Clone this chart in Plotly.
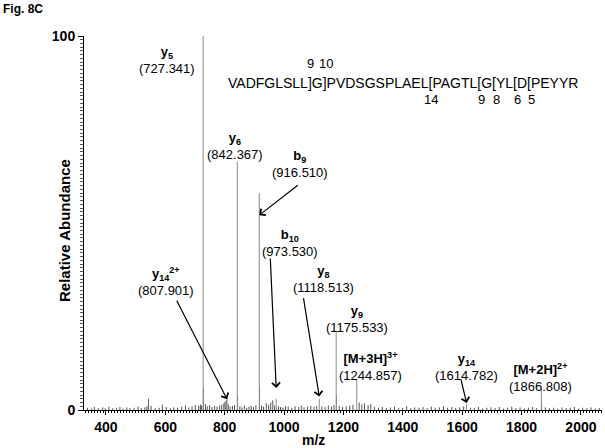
import plotly.graph_objects as go

# annotated fragment ions
ion_names = ['y<sub>5</sub>', 'y<sub>6</sub>', 'b<sub>9</sub>', 'b<sub>10</sub>',
             'y<sub>14</sub><sup>2+</sup>', 'y<sub>8</sub>', 'y<sub>9</sub>',
             '[M+3H]<sup>3+</sup>', 'y<sub>14</sub>', '[M+2H]<sup>2+</sup>']
ion_mz = [727.341, 842.367, 916.510, 973.530, 807.901, 1118.513, 1175.533,
          1244.857, 1614.782, 1866.808]
ion_int = [100, 66.4, 58.0, 3.0, 3.2, 3.0, 20.8, 8.0, 1.6, 5.9]

# isotope peaks next to the big ones
iso_mz = [728.344, 843.370, 917.513, 1176.536, 1867.810]
iso_int = [6.0, 3.8, 6.5, 4.0, 2.0]

# baseline noise peaks
noise_mz = [338, 352, 361, 374, 389, 397, 410, 423, 436, 447, 458, 470, 481, 495, 508, 519, 531, 538, 543,
            552, 566, 579, 590, 603, 617, 628, 641, 655, 668, 679, 690, 701, 712,
            718, 722, 735, 741, 749, 757, 766, 774, 783, 790, 797, 801, 805, 812, 818, 826, 833,
            851, 858, 866, 874, 882, 889, 897, 905, 924, 931, 940, 948, 955, 962, 968, 981, 988, 996,
            1005, 1014, 1026, 1037, 1049, 1058, 1067, 1079, 1090, 1101, 1110,
            1127, 1138, 1149, 1160, 1168, 1186, 1197, 1209, 1221, 1232, 1253, 1262, 1271, 1283, 1292, 1304,
            1318, 1331, 1345, 1358, 1372, 1386, 1399, 1413, 1427, 1440, 1455, 1468, 1482, 1496, 1509,
            1523, 1537, 1551, 1565, 1578, 1592, 1605,
            1628, 1641, 1655, 1669, 1683, 1697, 1711, 1725, 1739, 1753, 1767, 1781, 1795, 1809, 1823,
            1837, 1851, 1880, 1894, 1908, 1922, 1936, 1950, 1964, 1978, 1992, 2006, 2020, 2034, 2048, 2062]
noise_int = [0.6, 0.4, 0.8, 0.5, 0.7, 0.4, 0.9, 0.5, 0.6, 0.8, 0.4, 0.7, 0.5, 0.6, 0.9, 0.5, 0.7, 1.0, 3.0,
             1.1, 0.5, 0.6, 1.4, 0.8, 0.5, 0.7, 0.6, 0.9, 1.2, 0.7, 1.0, 1.3, 1.1,
             1.5, 1.2, 1.6, 1.0, 1.3, 0.8, 1.1, 0.9, 1.2, 1.4, 1.8, 2.2, 2.6, 1.5, 0.9, 1.1, 1.3,
             1.0, 0.7, 1.2, 0.6, 0.9, 1.1, 0.8, 1.3, 1.2, 0.9, 1.8, 1.4, 2.0, 2.6, 1.2, 1.0, 0.8, 0.7,
             1.1, 0.9, 0.6, 1.0, 0.8, 1.2, 0.7, 0.9, 1.1, 0.8, 1.0,
             1.0, 0.8, 1.2, 0.9, 1.3, 1.1, 0.8, 1.0, 1.2, 1.4, 2.0, 1.5, 1.8, 1.3, 1.6, 0.9,
             0.6, 0.8, 0.5, 0.7, 0.9, 0.5, 0.6, 1.0, 0.5, 0.7, 0.6, 0.8, 0.5, 0.9, 0.6,
             0.7, 1.0, 0.6, 0.8, 0.5, 0.7, 0.9,
             0.6, 0.5, 0.8, 0.4, 0.6, 0.7, 0.5, 0.8, 0.4, 0.6, 0.9, 0.5, 0.7, 0.4, 0.6,
             0.8, 0.5, 0.7, 0.5, 0.6, 0.4, 0.7, 0.5, 0.6, 0.8, 0.4, 0.6, 0.5, 0.7, 0.4, 0.5]

peptide = 'VADFGLSLLGPVDSGSPLAELPAGTLGYLDPEYYR'
b_cuts = [9, 10]
y_cuts = [14, 9, 8, 6, 5]

x_ticks = [400, 600, 800, 1000, 1200, 1400, 1600, 1800, 2000]

FONT = 'Liberation Sans, Arial'
L, T, W, H = 84, 36, 518, 374


def P(px, py):
    # pixel position on the page -> paper coords
    return (px - L) / W, (T + H - py) / H


def sticks(mz, inten):
    xs, ys = [], []
    for m, h in zip(mz, inten):
        xs += [m, m, None]
        ys += [0, h, None]
    return xs, ys


def note(px, py, text, size, **kw):
    x, y = P(px, py)
    d = dict(x=x, y=y, xref='paper', yref='paper', text=text, showarrow=False,
             xanchor='center', yanchor='middle', borderpad=0, borderwidth=0,
             font=dict(size=size))
    d.update(kw)
    return d


fig = go.Figure()
nx, ny = sticks(noise_mz, noise_int)
fig.add_trace(go.Scatter(x=nx, y=ny, mode='lines', line=dict(color='#555555', width=1), hoverinfo='skip'))
px_, py_ = sticks(ion_mz + iso_mz, ion_int + iso_int)
fig.add_trace(go.Scatter(x=px_, y=py_, mode='lines', line=dict(color='#8a8a8a', width=1), hoverinfo='skip'))

ann = []

# ion labels, two lines (name + m/z), centre in page pixels
label_pos = [(167, 60), (235, 146), (300, 164), (290, 243), (166, 281),
             (323, 279), (357, 319), (370, 366), (466, 367), (540, 377)]
for name, mz, p in zip(ion_names, ion_mz, label_pos):
    ann.append(note(p[0], p[1], '<b>' + name + '</b><br>(%.3f)' % mz, 13))

# arrows: (ion index, head height, tail offset px)
arrows = [(2, 52.1, 40, -31), (3, 5.9, -6, -131), (4, 2.9, -51, -100),
          (5, 3.6, -16, -100), (8, 1.9, -6, -25)]
for i, yh, dx, dy in arrows:
    ann.append(dict(x=ion_mz[i], y=yh, xref='x', yref='y', ax=dx, ay=dy, text='',
                    showarrow=True, arrowhead=4, arrowsize=1.3, arrowwidth=1.2, arrowcolor='black'))

# peptide sequence with fragmentation brackets
cw = {'V': 667, 'A': 667, 'D': 722, 'F': 611, 'G': 778, 'L': 556, 'S': 667, 'P': 667,
      'E': 667, 'T': 611, 'Y': 667, 'R': 722, '[': 278, ']': 278}
seq_size = 14
seq_x0 = 228
txt = ''
pos = seq_x0
marks = []
n = len(peptide)
for i, r in enumerate(peptide):
    if (n - i) in y_cuts:
        w = cw['['] * seq_size / 1000
        marks.append((pos + w / 2, str(n - i), 'below'))
        txt += '['
        pos += w
    txt += r
    pos += cw[r] * seq_size / 1000
    if (i + 1) in b_cuts:
        w = cw[']'] * seq_size / 1000
        marks.append((pos + w / 2, str(i + 1), 'above'))
        txt += ']'
        pos += w

ann.append(note(seq_x0, 83, txt, seq_size, xanchor='left'))
for mx, lab, where in marks:
    ann.append(note(mx, 64 if where == 'above' else 99, lab, 13))

# titles
ann.append(note(3, 9, '<b>Fig. 8C</b>', 12, xanchor='left'))
ann.append(note(64, 231, '<b>Relative Abundance</b>', 15, textangle=-90))
ann.append(note(313, 440, '<b>m/z</b>', 14))

fig.update_layout(
    width=605, height=448,
    margin=dict(l=L, r=605 - L - W, t=T, b=448 - T - H),
    plot_bgcolor='white', paper_bgcolor='white',
    showlegend=False,
    font=dict(family=FONT, color='black'),
    annotations=ann,
    xaxis=dict(range=[326, 2071], tickvals=x_ticks, ticks='outside', ticklen=4,
               tickcolor='black', showline=True, linecolor='black', linewidth=1,
               showgrid=False, zeroline=False,
               tickfont=dict(size=14, weight='bold'),
               minor=dict(dtick=10, tick0=0, ticks='outside', ticklen=2, tickcolor='black', showgrid=False)),
    yaxis=dict(range=[0, 100], tickvals=[0, 100], ticks='outside', ticklen=5,
               tickcolor='black', showline=True, linecolor='black', linewidth=1,
               showgrid=False, zeroline=False,
               tickfont=dict(size=14, weight='bold'),
               minor=dict(dtick=1, tick0=0, ticks='outside', ticklen=3, tickcolor='#555555', showgrid=False)),
)

# drop the default page margin so the figure sits at the window's corner
fig.write_html('out.html', config={'displayModeBar': False},
               post_script="document.body.style.margin='0';")
